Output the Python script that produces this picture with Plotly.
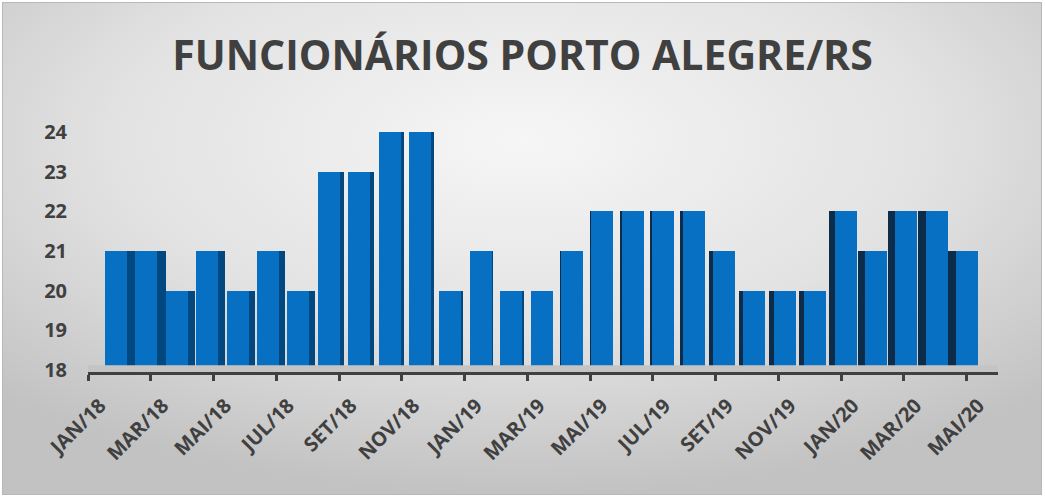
import base64
import plotly.graph_objects as go

# ---------------- data ----------------
months = ["JAN/18", "FEV/18", "MAR/18", "ABR/18", "MAI/18", "JUN/18", "JUL/18", "AGO/18",
          "SET/18", "OUT/18", "NOV/18", "DEZ/18", "JAN/19", "FEV/19", "MAR/19", "ABR/19",
          "MAI/19", "JUN/19", "JUL/19", "AGO/19", "SET/19", "OUT/19", "NOV/19", "DEZ/19",
          "JAN/20", "FEV/20", "MAR/20", "ABR/20", "MAI/20"]
funcionarios = [21, 21, 20, 21, 20, 21, 20, 23, 23, 24, 24, 20, 21, 20, 20, 21,
                22, 22, 22, 22, 21, 20, 20, 20, 22, 21, 22, 22, 21]
tick_labels = months[::2]
y_ticks = [18, 19, 20, 21, 22, 23, 24]
title = "FUNCIONÁRIOS PORTO ALEGRE/RS"

# ---------------- layout geometry (pixels of a 1045x498 figure) ----------------
W, H = 1045, 498
PX_L, PX_R = 88, 998          # category axis span
PX_TOP, PX_BOT = 120, 372     # plot area vertical span
n = len(months)

def y_range(px0, slope):
    lo = 18 - (PX_BOT - px0) / slope
    hi = 18 + (px0 - PX_TOP) / slope
    return [lo, hi]

front_range = y_range(370, 39.7)
wall_range = y_range(359, 36.2)     # back wall gridlines (perspective)

def persp(px):
    return (px - 116) / 30.4

fx_range = [persp(PX_L), persp(PX_R)]

FRONT_W = 22 / 30.4
centre = 14.3
side_w, side_off, side_col = [], [], []
for i in range(n):
    w = 0.62 * abs(i - centre) / 30.4
    side_w.append(w)
    if i < centre:
        side_off.append(FRONT_W / 2)
        side_col.append("#00487f")
    else:
        side_off.append(-FRONT_W / 2 - w)
        side_col.append("#0c2c4a")

fig = go.Figure()

fig.add_trace(go.Bar(
    x=list(range(n)), y=funcionarios, xaxis="x2", yaxis="y",
    width=side_w, offset=side_off, marker=dict(color=side_col, line=dict(width=0)),
    hoverinfo="skip", showlegend=False,
))
fig.add_trace(go.Bar(
    x=list(range(n)), y=funcionarios, xaxis="x2", yaxis="y",
    width=[FRONT_W] * n, offset=[-FRONT_W / 2] * n,
    marker=dict(color="#0870c2", line=dict(width=0)),
    customdata=months, hovertemplate="%{customdata}: %{y}<extra></extra>",
    showlegend=False,
))

svg = f"""<svg xmlns='http://www.w3.org/2000/svg' width='{W}' height='{H}' viewBox='0 0 {W} {H}' preserveAspectRatio='none'>
<defs><radialGradient id='g' cx='0.5' cy='0.28' r='0.72'>
<stop offset='0' stop-color='#f6f6f6'/><stop offset='0.55' stop-color='#e2e2e2'/><stop offset='1' stop-color='#c2c2c2'/>
</radialGradient></defs>
<rect x='0.5' y='0.5' width='{W-1}' height='{H-1}' fill='url(#g)' stroke='#b8b8b8' stroke-width='1'/>
</svg>"""
src = "data:image/svg+xml;base64," + base64.b64encode(svg.encode()).decode()

font_family = "Open Sans, Lato, Arial, sans-serif"
dark = "#404040"

fig.update_layout(
    width=W, height=H, autosize=False,
    margin=dict(l=0, r=0, t=0, b=0, pad=0),
    paper_bgcolor="white", plot_bgcolor="rgba(0,0,0,0)",
    barmode="overlay", bargap=0,
    title=dict(text=title, x=0.5, xanchor="center", y=1 - 56 / H, yanchor="middle",
               xref="paper", yref="paper", automargin=False,
               font=dict(family=font_family, size=41, color=dark, weight="bold")),
    images=[dict(source=src, xref="paper", yref="paper", x=2 / W, y=1 - 2 / H,
                 sizex=1 - 5 / W, sizey=1 - 5 / H, xanchor="left", yanchor="top",
                 sizing="stretch", layer="below")],
    xaxis=dict(domain=[PX_L / W, PX_R / W], range=[-0.5, n - 0.5], automargin=False,
               tickmode="array", tickvals=[i - 0.5 for i in range(0, n, 2)], ticktext=tick_labels,
               tickangle=-45, ticks="outside", ticklen=6, tickwidth=2.5, tickcolor=dark,
               ticklabelshift=12, ticklabelstandoff=5,
               showline=True, linecolor=dark, linewidth=3, showgrid=False, zeroline=False,
               tickfont=dict(family=font_family, size=20, color=dark, weight="bold")),
    xaxis2=dict(overlaying="x", range=fx_range, visible=False, automargin=False,
                domain=[PX_L / W, PX_R / W]),
    yaxis=dict(domain=[1 - PX_BOT / H, 1 - PX_TOP / H], range=front_range, automargin=False,
               tickmode="array", tickvals=y_ticks, showgrid=False, zeroline=False,
               showline=False, ticks="", ticklabelstandoff=20,
               tickfont=dict(family=font_family, size=20, color=dark, weight="bold")),
    yaxis2=dict(overlaying="y", range=wall_range, tickmode="array", tickvals=y_ticks[1:],
                showticklabels=False, showgrid=True, gridcolor="#cfcfcf", gridwidth=2,
                zeroline=False, showline=False, automargin=False,
                domain=[1 - PX_BOT / H, 1 - PX_TOP / H]),
    shapes=[dict(type="rect", xref="x", yref="y", x0=-0.5, x1=n - 0.5,
                 y0=front_range[0], y1=18.12, fillcolor="#c4c4c4", line=dict(width=0),
                 layer="above")],
)

fig.write_html("out.html", post_script="document.body.style.margin='0';",
               config={"displayModeBar": False})
